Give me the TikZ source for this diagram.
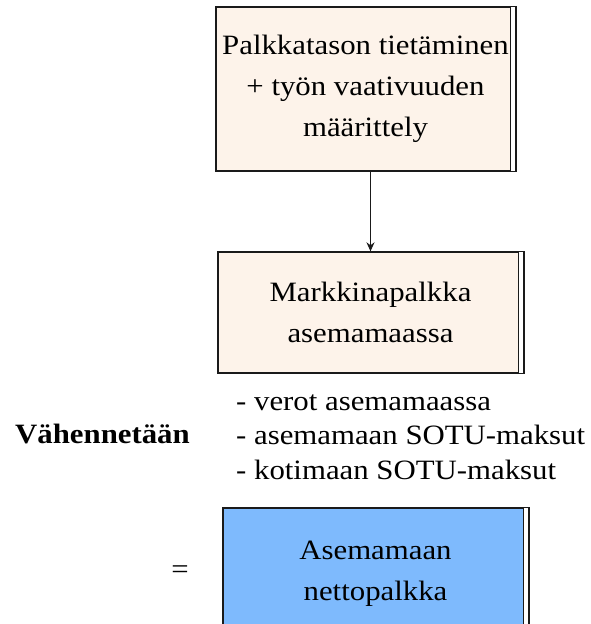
\documentclass[tikz,border=0pt]{standalone}
\usepackage{fontspec}
\setmainfont[FakeStretch=1.1]{Liberation Serif}
\usetikzlibrary{calc,arrows.meta}
\definecolor{peach}{HTML}{FDF3EA}
\definecolor{skyb}{HTML}{7EBAFD}
\definecolor{edge}{HTML}{1A1A1A}
\tikzset{
  box/.style={draw=edge, line width=1.3pt, align=center, inner sep=0pt,
    font=\fontsize{28}{41}\selectfont},
  plain/.style={inner sep=0pt, font=\fontsize{28}{34.5}\selectfont},
}
\newcommand{\dedge}[1]{%
  \fill[white] ($(#1.north east)+(-5,0)$) rectangle (#1.south east);
  \draw[draw=edge, line width=1.3pt] (#1.north west) rectangle (#1.south east);
  \draw[draw=edge, line width=2.2pt] (#1.north east) -- (#1.south east);
  \draw[draw=edge, line width=1pt] ($(#1.north east)+(-5,0)$) -- ($(#1.south east)+(-5,0)$);
}
\begin{document}
\begin{tikzpicture}[x=1pt,y=-1pt]
\useasboundingbox (0,0) rectangle (590,624);
\node[box, fill=peach, minimum width=299pt, minimum height=164pt] (b1) at (365.5,89)
  {Palkkatason tietäminen\\+ työn vaativuuden\\määrittely};
\dedge{b1}
\node[box, fill=peach, minimum width=305pt, minimum height=121pt] (b2) at (370.5,312.5)
  {Markkinapalkka\\asemamaassa};
\dedge{b2}
\node[box, fill=skyb, minimum width=305pt, minimum height=132pt] (b3) at (375.5,574)
  {Asemamaan\\nettopalkka};
\dedge{b3}
\draw[draw=edge, line width=1.3pt, -{Stealth[length=9pt,width=8pt]}] (b1.south -| b2.north) -- (b2.north);
\node[plain, anchor=west, align=left] (lst) at (236,437)
  {- verot asemamaassa\\- asemamaan SOTU-maksut\\- kotimaan SOTU-maksut};
\node[plain, anchor=base west, font=\fontsize{28}{34}\selectfont\bfseries] (vah) at (15,443) {Vähennetään};
\node[plain] (eq) at (180,572) {=};
\end{tikzpicture}
\end{document}
